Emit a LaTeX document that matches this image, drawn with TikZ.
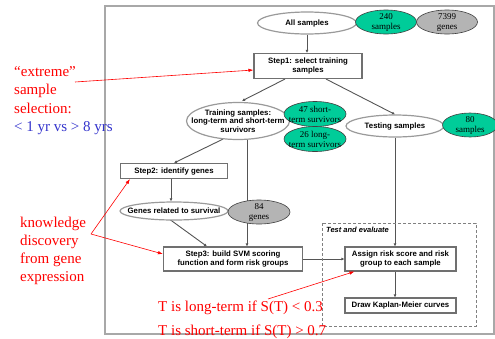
\documentclass[tikz,border=0pt]{standalone}
\usepackage{fontspec}
\setmainfont{Liberation Serif}
\setsansfont{Liberation Sans}
\usetikzlibrary{shapes.geometric,arrows.meta,calc,backgrounds}
\definecolor{tealg}{HTML}{00CC99}
\definecolor{grayfill}{HTML}{B4B4B4}
\definecolor{framegray}{HTML}{A8A8A8}
\definecolor{edgegray}{HTML}{9A9A9A}
\definecolor{boxgray}{HTML}{707070}
\definecolor{linegray}{HTML}{555555}
\definecolor{bluetxt}{HTML}{3333CC}
\begin{document}
\begin{tikzpicture}[x=1pt,y=-1pt,
  lbl/.style={font=\sffamily\bfseries\fontsize{7.8}{9.2}\selectfont, align=center, inner sep=0pt},
  oval/.style={ellipse, draw=edgegray, line width=1.2pt, fill=white, inner sep=0pt},
  stepbox/.style={lbl, rectangle, draw=boxgray, line width=1.1pt, fill=white},
  stat/.style={ellipse, draw=black!75, line width=0.6pt, inner sep=0pt},
  green/.style={stat, fill=tealg},
  grey/.style={stat, fill=grayfill},
  stattxt/.style={font=\fontsize{9}{10}\selectfont, align=center, inner sep=0pt},
  flow/.style={draw=linegray, line width=0.9pt, -{Latex[length=3pt,width=3pt]}},
  note/.style={draw=red, line width=0.6pt, -{Latex[length=5pt,width=3.5pt]}},
  anno/.style={font=\fontsize{15}{18.2}\selectfont, align=left, inner sep=0pt, anchor=north west, text=red},
  testbox/.style={draw=gray, line width=0.8pt, densely dashed},
]
\useasboundingbox (0,0) rectangle (495,338);
\draw[framegray, line width=1.5pt] (105,6) rectangle (494,334);

% dashed region
\draw[testbox] (322,223) rectangle (476,326);
\node[font=\sffamily\bfseries\itshape\fontsize{7.5}{9}\selectfont, anchor=west, inner sep=0pt] (te) at (326,230) {Test and evaluate};

% nodes
\node[oval, minimum width=99pt, minimum height=22pt] (all) at (307,23) {};
\node[lbl] (allt) at (all) {All samples};
\node[green, minimum width=61pt, minimum height=24pt] (n240) at (386,22) {};
\node[stattxt] (n240t) at (n240) {240\\samples};
\node[grey, minimum width=61pt, minimum height=24pt] (n7399) at (447,22) {};
\node[stattxt] (n7399t) at (n7399) {7399\\genes};

\node[stepbox, minimum width=108pt, minimum height=25pt] (s1) at (308,66) {Step1: select training\\samples};

\node[oval, minimum width=103pt, minimum height=37pt] (train) at (238,121) {};
\node[lbl, font=\sffamily\bfseries\fontsize{7.8}{8.7}\selectfont] (traint) at (train) {Training samples:\\long-term and short-term\\survivors};
\node[green, minimum width=62pt, minimum height=25pt] (n47) at (315,114) {};
\node[stattxt] (n47t) at (n47) {47 short-\\term survivors};
\node[green, minimum width=62pt, minimum height=25pt] (n26) at (315,139) {};
\node[stattxt] (n26t) at (n26) {26 long-\\term survivors};

\node[oval, minimum width=98pt, minimum height=22pt] (test) at (395,126) {};
\node[lbl] (testt) at (test) {Testing samples};
\node[green, minimum width=55pt, minimum height=24pt] (n80) at (470,125) {};
\node[stattxt] (n80t) at (n80) {80\\samples};

\node[stepbox, minimum width=107pt, minimum height=15pt] (s2) at (174,171) {Step2: identify genes};
\node[oval, minimum width=108pt, minimum height=18pt] (genes) at (174,211) {};
\node[lbl] (genest) at (genes) {Genes related to survival};
\node[grey, minimum width=62pt, minimum height=24pt] (n84) at (259,212) {};
\node[stattxt] (n84t) at (n84) {84\\genes};

\node[stepbox, minimum width=139pt, minimum height=24pt] (s3) at (233,259) {Step3: build SVM scoring\\function and form risk groups};
\node[stepbox, minimum width=111pt, minimum height=24pt] (assign) at (400.5,259) {Assign risk score and risk\\group to each sample};
\node[stepbox, minimum width=111pt, minimum height=15pt] (km) at (400.5,305.5) {Draw Kaplan-Meier curves};

\coordinate (v1) at (247,0);
\coordinate (v2) at (171,0);

\begin{scope}[on background layer]
\draw[flow] (all) -- (all |- s1.north);
\draw[flow] ($(s1.south)+(-23,0)$) -- ($(train.north)+(4,-1)$);
\draw[flow] ($(s1.south)+(18,0)$) -- (test.north);
\draw[flow] ($(train.south)+(-15,-1)$) -- (s2.north);
\draw[flow] (train.center -| v1) -- (v1 |- s3.north);
\draw[flow] (v2 |- s2.south) -- (v2 |- genes.north);
\draw[flow] ($(genes.south)+(-4,-1)$) -- ($(s3.north)+(-26,0)$);
\draw[flow] (s3.east) -- (assign.west);
\draw[flow] (test.south) -- (test.south |- assign.north);
\draw[flow] (test.south |- assign.south) -- (test.south |- km.north);
\end{scope}

% annotations
\node[anno] (ext) at (14,66.5) {``extreme''\\sample\\selection:\\\textcolor{bluetxt}{< 1 yr vs > 8 yrs}};
\node[anno] (kd) at (20,216.5) {knowledge\\discovery\\from gene\\expression};
\node[anno, anchor=base west] (tl) at (158,311) {T is long-term if S(T) < 0.3};
\node[anno, anchor=base west] (ts) at (158,335) {T is short-term if S(T) > 0.7};

\coordinate (e1) at (75,82);
\coordinate (k1) at (91,234);
\coordinate (t1) at (268,299);
\draw[note] (e1) -- ($(s1.west)+(0,4)$);
\draw[note] (k1) -- ($(s2.south west)+(10,0)$);
\draw[note] (k1) -- ($(s3.west)+(0,-5)$);
\draw[note] (t1) -- ($(assign.south west)+(10,0)$);
\end{tikzpicture}
\end{document}
